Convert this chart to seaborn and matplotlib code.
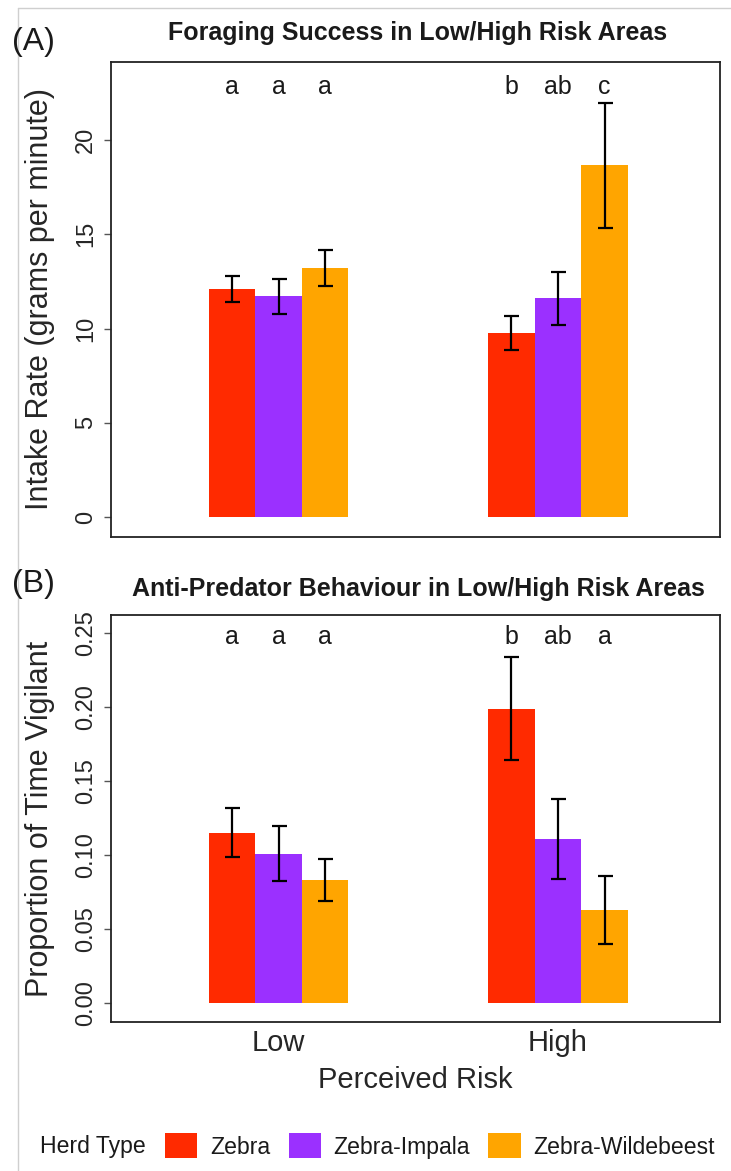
import pandas as pd
import matplotlib
matplotlib.use("Agg")
from matplotlib import pyplot as plt
from matplotlib.patches import Patch
from matplotlib.lines import Line2D
import seaborn as sns

# data
risk_levels = ["Low", "High"]
herd_types = ["Zebra", "Zebra-Impala", "Zebra-Wildebeest"]
herd_colors = ["#FF2A00", "#9B30FF", "#FFA500"]

intake_zebra = [12.1, 9.75]
intake_impala = [11.7, 11.6]
intake_wildebeest = [13.2, 18.65]
intake_se_zebra = [0.7, 0.9]
intake_se_impala = [0.95, 1.4]
intake_se_wildebeest = [0.95, 3.3]
intake_letters_zebra = ["a", "b"]
intake_letters_impala = ["a", "ab"]
intake_letters_wildebeest = ["a", "c"]

vigil_zebra = [0.115, 0.199]
vigil_impala = [0.101, 0.111]
vigil_wildebeest = [0.083, 0.063]
vigil_se_zebra = [0.0165, 0.035]
vigil_se_impala = [0.0185, 0.027]
vigil_se_wildebeest = [0.0142, 0.0228]
vigil_letters_zebra = ["a", "b"]
vigil_letters_impala = ["a", "ab"]
vigil_letters_wildebeest = ["a", "a"]


def long_table(means, ses, letters):
    rows = []
    for herd, m, s, l in zip(herd_types, means, ses, letters):
        for i, r in enumerate(risk_levels):
            rows.append({"risk": r, "herd": herd, "value": m[i], "se": s[i], "letter": l[i]})
    return pd.DataFrame(rows)


intakeDF = long_table([intake_zebra, intake_impala, intake_wildebeest],
                      [intake_se_zebra, intake_se_impala, intake_se_wildebeest],
                      [intake_letters_zebra, intake_letters_impala, intake_letters_wildebeest])
vigilDF = long_table([vigil_zebra, vigil_impala, vigil_wildebeest],
                     [vigil_se_zebra, vigil_se_impala, vigil_se_wildebeest],
                     [vigil_letters_zebra, vigil_letters_impala, vigil_letters_wildebeest])

sns.set_theme(style="white")
plt.rcParams['font.family'] = ['Liberation Sans', 'DejaVu Sans']
plt.rcParams['text.color'] = '#1a1a1a'

W, H = 731, 1171
fig = plt.figure(figsize=(W / 100, H / 100), dpi=100)
fig.patch.set_facecolor("white")
axA = fig.add_axes([111 / W, 1 - 537 / H, 609 / W, 475 / H])
axB = fig.add_axes([111 / W, 1 - 1022 / H, 609 / W, 407 / H])


def draw_panel(ax, df, letter_y):
    sns.barplot(data=df, x="risk", y="value", hue="herd", order=risk_levels, hue_order=herd_types,
                palette=herd_colors, width=0.5, errorbar=None, saturation=1, legend=False,
                linewidth=0, ax=ax)
    for herd, cont in zip(herd_types, ax.containers):
        sub = df[df.herd == herd].set_index("risk").loc[risk_levels]
        for bar, (r, row) in zip(cont, sub.iterrows()):
            xc = bar.get_x() + bar.get_width() / 2
            ax.errorbar(xc, row["value"], yerr=row["se"], fmt="none", ecolor="black",
                        elinewidth=1.6, capsize=5.4, capthick=1.6, zorder=5)
            ax.text(xc, letter_y, row["letter"], ha="center", va="center", fontsize=18, color="#1a1a1a")
    ax.set_xlim(-0.6, 1.58)
    for s in ax.spines.values():
        s.set_color("#222222")
        s.set_linewidth(1.3)
    ax.tick_params(axis="y", length=5, width=1, color="#555555", labelsize=17, labelrotation=90, pad=5, left=True)
    for t in ax.get_yticklabels():
        t.set_va("center")
    ax.set_xlabel("")


draw_panel(axA, intakeDF, 22.8)
axA.set_ylim(-1.06, 24.14)
axA.set_yticks([0, 5, 10, 15, 20])
axA.set_yticklabels(["0", "5", "10", "15", "20"], va="center")
axA.set_xticklabels([])
axA.tick_params(axis="x", length=0)
axA.set_ylabel("Intake Rate (grams per minute)", fontsize=22, va="center")
axA.yaxis.set_label_coords(-0.117, 0.5)

draw_panel(axB, vigilDF, 0.247)
axB.set_ylim(-0.0128, 0.2622)
axB.set_yticks([0, 0.05, 0.10, 0.15, 0.20, 0.25])
axB.set_yticklabels(["0.00", "0.05", "0.10", "0.15", "0.20", "0.25"], va="center")
axB.tick_params(axis="x", length=0, labelsize=21, pad=5)
axB.set_ylabel("Proportion of Time Vigilant", fontsize=22, va="center")
axB.yaxis.set_label_coords(-0.117, 0.5)
axB.set_xlabel("Perceived Risk", fontsize=21, va="center")
axB.xaxis.set_label_coords(0.5, -(1080 - 1022) / 407)

# titles and panel tags
fig.text(418 / W, 1 - 33 / H, "Foraging Success in Low/High Risk Areas", ha="center", va="center",
         fontsize=18, fontweight="bold")
fig.text(418 / W, 1 - 589 / H, "Anti-Predator Behaviour in Low/High Risk Areas", ha="center", va="center",
         fontsize=18, fontweight="bold")
fig.text(12 / W, 1 - 42 / H, "(A)", ha="left", va="center", fontsize=23)
fig.text(12 / W, 1 - 584 / H, "(B)", ha="left", va="center", fontsize=23)

# legend
fig.text(40 / W, 1 - 1147 / H, "Herd Type", ha="left", va="center", fontsize=16.6)
handles = [Patch(facecolor=c, edgecolor="none") for c in herd_colors]
fig.legend(handles, herd_types, loc="center left", bbox_to_anchor=(165 / W, 1 - 1146 / H), ncol=3,
           frameon=False, fontsize=16.6, handlelength=1.4, handleheight=1.3, handletextpad=0.55,
           columnspacing=0.8, borderpad=0, borderaxespad=0)

# faint frame of the original slide
fig.add_artist(Line2D([18 / W, 18 / W], [0, 1 - 8 / H], color="#cfcfcf", lw=1))
fig.add_artist(Line2D([18 / W, 1], [1 - 8 / H, 1 - 8 / H], color="#cfcfcf", lw=1))

fig.savefig("out.png", dpi=100)
